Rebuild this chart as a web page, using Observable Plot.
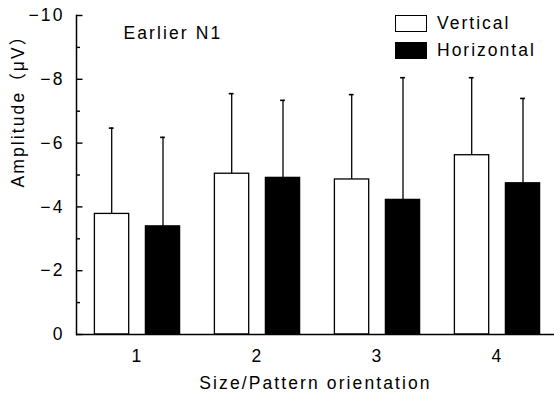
<!DOCTYPE html>
<html>
<head>
<meta charset="utf-8">
<script src="https://cdn.jsdelivr.net/npm/d3@7"></script>
<script src="https://cdn.jsdelivr.net/npm/@observablehq/plot@0.6"></script>
<style>
  body { margin: 0; background: #fff; }
  #wrap { position: relative; width: 554px; height: 397px; font-family: "Liberation Sans", Arial, "Noto Sans CJK JP", sans-serif; }
  .sw { position: absolute; left: 395px; width: 32px; height: 17px; box-sizing: border-box; border: 1.5px solid #000; }
  .lt { position: absolute; left: 437px; font-size: 17.5px; line-height: 17px; letter-spacing: 2px; color: #000; white-space: nowrap; }
</style>
</head>
<body>
<div id="wrap"></div>
<script>
// ---- data ----
const groups = ["1", "2", "3", "4"];
const seriesNames = ["Vertical", "Horizontal"];
const verticalMean = [-3.78, -5.04, -4.86, -5.62];
const verticalSD = [2.69, 2.51, 2.66, 2.43];
const horizontalMean = [-3.39, -4.91, -4.22, -4.74];
const horizontalSD = [2.79, 2.43, 3.83, 2.66];
const yTicks = [0, -2, -4, -6, -8, -10];
const yMinorTicks = [-1, -3, -5, -7, -9];
const panelLabel = "Earlier N1";
const xLabel = "Size/Pattern orientation";
const yLabel = "Amplitude（μV）";

const vRows = groups.map((g, i) => ({group: g, series: seriesNames[0], mean: verticalMean[i], sd: verticalSD[i]}));
const hRows = groups.map((g, i) => ({group: g, series: seriesNames[1], mean: horizontalMean[i], sd: horizontalSD[i]}));

const W = 554, H = 397, ML = 76, MR = 0, MT = 15, MB = 63;
const frameW = W - ML - MR;
const fmt = d => d === 0 ? "0" : "−" + Math.abs(d);

const chart = Plot.plot({
  width: W,
  height: H,
  marginLeft: ML,
  marginRight: MR,
  marginTop: MT,
  marginBottom: MB,
  style: {
    fontFamily: '"Liberation Sans", Arial, "Noto Sans CJK JP", sans-serif',
    fontSize: "17.5px",
    letterSpacing: "2.1px",
    color: "#000",
    background: "#fff",
    overflow: "visible"
  },
  x: {type: "band", domain: groups, range: [76.2, 557], padding: 0, tickSize: 0, tickPadding: 15, label: null},
  y: {domain: [0, -10], ticks: yTicks, tickSize: 0, tickPadding: 12, tickFormat: fmt, label: null},
  marks: [
    Plot.barY(vRows, {x: "group", y: "mean", fill: "white", stroke: "black", strokeWidth: 1.3, insetLeft: 17.4, insetRight: 68.3}),
    Plot.barY(hRows, {x: "group", y: "mean", fill: "black", stroke: "black", strokeWidth: 1.3, insetLeft: 68.4, insetRight: 17.4}),
    Plot.ruleX(vRows, {x: "group", y1: "mean", y2: d => d.mean - d.sd, dx: -25.8, stroke: "black", strokeWidth: 1.3}),
    Plot.ruleX(hRows, {x: "group", y1: "mean", y2: d => d.mean - d.sd, dx: 25.5, stroke: "black", strokeWidth: 1.3}),
    Plot.tickY(vRows, {x: "group", y: d => d.mean - d.sd, dx: -25.8, insetLeft: 57.6, insetRight: 57.6, stroke: "black", strokeWidth: 1.6}),
    Plot.tickY(hRows, {x: "group", y: d => d.mean - d.sd, dx: 25.5, insetLeft: 57.6, insetRight: 57.6, stroke: "black", strokeWidth: 1.6}),
    Plot.tickY(yTicks, {y: d => d, insetLeft: 0, insetRight: frameW - 6.5, stroke: "black", strokeWidth: 1.4}),
    Plot.tickY(yMinorTicks, {y: d => d, insetLeft: 0, insetRight: frameW - 4, stroke: "black", strokeWidth: 1.4}),
    Plot.ruleY([0], {stroke: "black", strokeWidth: 1.5}),
    Plot.frame({anchor: "left", stroke: "black", strokeWidth: 1.5}),
    Plot.text([panelLabel], {frameAnchor: "top-left", dx: 47, dy: 11, textAnchor: "start", lineAnchor: "top", fill: "black"}),
    Plot.text([xLabel], {frameAnchor: "bottom", dy: 42, lineAnchor: "top", fill: "black"}),
    Plot.text([yLabel], {frameAnchor: "left", rotate: -90, dx: -58, dy: 12.5, fill: "black"})
  ]
});

const wrap = document.getElementById("wrap");
wrap.appendChild(chart);

// legend overlay
const legendItems = [
  {name: seriesNames[0], fill: "#fff", top: 15},
  {name: seriesNames[1], fill: "#000", top: 42}
];
for (const it of legendItems) {
  const sw = document.createElement("div");
  sw.className = "sw";
  sw.style.top = it.top + "px";
  sw.style.background = it.fill;
  wrap.appendChild(sw);
  const t = document.createElement("div");
  t.className = "lt";
  t.style.top = (it.top + 0) + "px";
  t.textContent = it.name;
  wrap.appendChild(t);
}
</script>
</body>
</html>
